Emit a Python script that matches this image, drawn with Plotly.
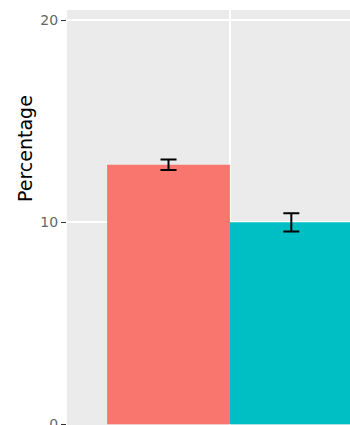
import plotly.graph_objects as go

# Grouped bar chart of percentages with standard-error bars
groups = ["A", "B"]
category = ["1"]
percentage = [12.85, 10.0]
std_err = [0.26, 0.45]
colors = ["#F8766D", "#00BFC4"]
y_ticks = [0, 10, 20]
y_title = "Percentage"

fig = go.Figure()
for name, val, err, col in zip(groups, percentage, std_err, colors):
    fig.add_trace(go.Bar(
        x=category,
        y=[val],
        name=name,
        marker=dict(color=col, line=dict(width=0)),
        error_y=dict(type="data", array=[err], color="#000000",
                     thickness=2, width=8),
    ))

fig.update_layout(
    width=350, height=425,
    margin=dict(l=67, r=0, t=10, b=0, pad=0, autoexpand=False),
    paper_bgcolor="#FFFFFF",
    plot_bgcolor="#EBEBEB",
    barmode="group",
    bargap=0.1,
    bargroupgap=0,
    showlegend=False,
    font=dict(family="DejaVu Sans"),
)
fig.update_xaxes(
    type="category",
    range=[-0.597, 0.44],
    showgrid=True, gridcolor="#FFFFFF", gridwidth=1.8,
    showticklabels=False, ticks="", zeroline=False,
    automargin=False,
)
fig.update_yaxes(
    range=[-0.035, 20.51],
    tickvals=y_ticks,
    ticktext=[str(v) for v in y_ticks],
    ticks="outside", ticklen=5, tickwidth=1, tickcolor="#333333",
    tickfont=dict(family="DejaVu Sans", size=14, color="#666666"),
    ticklabeloverflow="allow",
    showgrid=True, gridcolor="#FFFFFF", gridwidth=1.8,
    zeroline=False,
    automargin=False,
)

# y-axis title, placed left of the tick labels
fig.add_annotation(
    text=y_title, textangle=-90,
    xref="paper", yref="paper", x=0, y=0.665,
    xanchor="center", yanchor="middle", xshift=-42,
    showarrow=False,
    font=dict(family="DejaVu Sans", size=19, color="#000000"),
)

fig.write_html("out.html", config={"displayModeBar": False})
